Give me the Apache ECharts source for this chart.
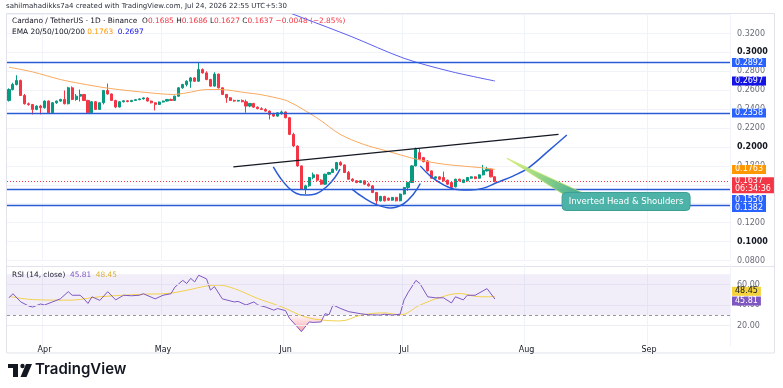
<!DOCTYPE html>
<html>
<head>
<meta charset="utf-8">
<title>Cardano / TetherUS 1D</title>
<script src="https://cdn.jsdelivr.net/npm/echarts@6.0.0/dist/echarts.min.js"></script>
<style>
  html, body { margin: 0; padding: 0; background: #ffffff; }
  #chart { width: 783px; height: 388px; }
</style>
</head>
<body>
<div id="chart"></div>
<script>
// ---- values ----
const startDay = '2026-03-23'      // first candle
const dayCount = 183               // candles + empty room on the right (to ~Sep 21)
const monthNames = ['Jan', 'Feb', 'Mar', 'Apr', 'May', 'Jun', 'Jul', 'Aug', 'Sep', 'Oct', 'Nov', 'Dec']

// daily candles: [open, close, low, high]
const candles = [
  [0.2492, 0.2607, 0.2480, 0.2620], [0.2607, 0.2660, 0.2598, 0.2678], [0.2660, 0.2702, 0.2650, 0.2758],
  [0.2702, 0.2544, 0.2538, 0.2712], [0.2544, 0.2457, 0.2448, 0.2560], [0.2457, 0.2448, 0.2436, 0.2470],
  [0.2448, 0.2397, 0.2344, 0.2455], [0.2397, 0.2432, 0.2388, 0.2440], [0.2432, 0.2415, 0.2344, 0.2445],
  [0.2415, 0.2485, 0.2405, 0.2492], [0.2485, 0.2362, 0.2350, 0.2492], [0.2362, 0.2467, 0.2358, 0.2475],
  [0.2467, 0.2485, 0.2455, 0.2490], [0.2485, 0.2502, 0.2478, 0.2510], [0.2502, 0.2457, 0.2450, 0.2597],
  [0.2457, 0.2625, 0.2450, 0.2636], [0.2625, 0.2502, 0.2495, 0.2640], [0.2502, 0.2537, 0.2488, 0.2560],
  [0.2537, 0.2555, 0.2480, 0.2607], [0.2555, 0.2492, 0.2485, 0.2560], [0.2492, 0.2362, 0.2355, 0.2498],
  [0.2362, 0.2478, 0.2356, 0.2485], [0.2478, 0.2397, 0.2390, 0.2485], [0.2397, 0.2467, 0.2392, 0.2472],
  [0.2467, 0.2597, 0.2450, 0.2603], [0.2597, 0.2560, 0.2553, 0.2670], [0.2560, 0.2492, 0.2486, 0.2566],
  [0.2492, 0.2422, 0.2410, 0.2498], [0.2422, 0.2478, 0.2418, 0.2485], [0.2478, 0.2488, 0.2470, 0.2495],
  [0.2488, 0.2480, 0.2472, 0.2494], [0.2480, 0.2492, 0.2474, 0.2498], [0.2492, 0.2500, 0.2486, 0.2506],
  [0.2500, 0.2508, 0.2494, 0.2515], [0.2508, 0.2518, 0.2500, 0.2525], [0.2518, 0.2485, 0.2480, 0.2525],
  [0.2485, 0.2467, 0.2460, 0.2490], [0.2467, 0.2450, 0.2386, 0.2472], [0.2450, 0.2475, 0.2444, 0.2480],
  [0.2475, 0.2485, 0.2470, 0.2490], [0.2485, 0.2502, 0.2480, 0.2508], [0.2502, 0.2492, 0.2486, 0.2510],
  [0.2492, 0.2537, 0.2488, 0.2542], [0.2537, 0.2625, 0.2530, 0.2632], [0.2625, 0.2660, 0.2615, 0.2668],
  [0.2660, 0.2695, 0.2640, 0.2705], [0.2695, 0.2730, 0.2625, 0.2740], [0.2730, 0.2695, 0.2688, 0.2738],
  [0.2695, 0.2818, 0.2690, 0.2888], [0.2818, 0.2783, 0.2775, 0.2830], [0.2783, 0.2713, 0.2705, 0.2800],
  [0.2713, 0.2643, 0.2636, 0.2720], [0.2643, 0.2770, 0.2638, 0.2790], [0.2770, 0.2625, 0.2618, 0.2775],
  [0.2625, 0.2555, 0.2548, 0.2630], [0.2555, 0.2520, 0.2467, 0.2560], [0.2520, 0.2492, 0.2486, 0.2526],
  [0.2492, 0.2485, 0.2478, 0.2500], [0.2485, 0.2492, 0.2480, 0.2498], [0.2492, 0.2478, 0.2472, 0.2502],
  [0.2478, 0.2432, 0.2362, 0.2500], [0.2432, 0.2460, 0.2420, 0.2466], [0.2460, 0.2421, 0.2415, 0.2466],
  [0.2421, 0.2405, 0.2398, 0.2428], [0.2405, 0.2396, 0.2390, 0.2420], [0.2396, 0.2379, 0.2372, 0.2410],
  [0.2379, 0.2344, 0.2291, 0.2385], [0.2344, 0.2326, 0.2318, 0.2361], [0.2326, 0.2361, 0.2320, 0.2366],
  [0.2361, 0.2370, 0.2340, 0.2385], [0.2370, 0.2309, 0.2302, 0.2375], [0.2309, 0.2133, 0.2125, 0.2315],
  [0.2133, 0.2010, 0.2000, 0.2150], [0.2010, 0.1800, 0.1790, 0.2015], [0.1800, 0.1554, 0.1545, 0.1805],
  [0.1554, 0.1589, 0.1502, 0.1600], [0.1589, 0.1677, 0.1579, 0.1684], [0.1677, 0.1705, 0.1659, 0.1730],
  [0.1705, 0.1649, 0.1642, 0.1712], [0.1649, 0.1607, 0.1600, 0.1659], [0.1607, 0.1712, 0.1600, 0.1718],
  [0.1712, 0.1730, 0.1705, 0.1737], [0.1730, 0.1765, 0.1725, 0.1772], [0.1765, 0.1835, 0.1747, 0.1842],
  [0.1835, 0.1810, 0.1800, 0.1850], [0.1810, 0.1730, 0.1724, 0.1815], [0.1730, 0.1659, 0.1652, 0.1747],
  [0.1659, 0.1642, 0.1636, 0.1670], [0.1642, 0.1624, 0.1617, 0.1649], [0.1624, 0.1642, 0.1618, 0.1648],
  [0.1642, 0.1607, 0.1600, 0.1648], [0.1607, 0.1589, 0.1582, 0.1624], [0.1589, 0.1519, 0.1512, 0.1595],
  [0.1519, 0.1431, 0.1390, 0.1525], [0.1431, 0.1477, 0.1424, 0.1484], [0.1477, 0.1431, 0.1424, 0.1484],
  [0.1459, 0.1438, 0.1430, 0.1465], [0.1438, 0.1467, 0.1432, 0.1472], [0.1467, 0.1431, 0.1424, 0.1472],
  [0.1431, 0.1502, 0.1426, 0.1508], [0.1502, 0.1572, 0.1495, 0.1578], [0.1572, 0.1624, 0.1537, 0.1630],
  [0.1624, 0.1800, 0.1618, 0.1808], [0.1800, 0.1975, 0.1795, 0.1993], [0.1940, 0.1870, 0.1862, 0.1980],
  [0.1888, 0.1845, 0.1838, 0.1895], [0.1852, 0.1747, 0.1740, 0.1860], [0.1747, 0.1670, 0.1664, 0.1752],
  [0.1670, 0.1684, 0.1664, 0.1690], [0.1684, 0.1659, 0.1652, 0.1690], [0.1677, 0.1642, 0.1636, 0.1740],
  [0.1649, 0.1607, 0.1600, 0.1655], [0.1624, 0.1572, 0.1565, 0.1630], [0.1579, 0.1659, 0.1572, 0.1665],
  [0.1659, 0.1642, 0.1636, 0.1665], [0.1624, 0.1652, 0.1618, 0.1658], [0.1642, 0.1677, 0.1636, 0.1683],
  [0.1670, 0.1684, 0.1665, 0.1690], [0.1684, 0.1666, 0.1660, 0.1690], [0.1670, 0.1705, 0.1664, 0.1710],
  [0.1705, 0.1754, 0.1700, 0.1810], [0.1747, 0.1765, 0.1740, 0.1790], [0.1765, 0.1684, 0.1678, 0.1772],
  [0.1685, 0.1637, 0.1627, 0.1686]
]

// moving averages, [day index, value]
const emaFast = [[0, 0.2843], [6, 0.2793], [13, 0.2713], [18, 0.2671], [25.6, 0.2618], [35.7, 0.2572],
  [41.5, 0.2555], [45, 0.2572], [50, 0.2607], [53.4, 0.2607], [60.2, 0.2572], [63.5, 0.2555], [67, 0.2525],
  [70.6, 0.2484], [77.9, 0.2309], [83.8, 0.2134], [89.7, 0.2028], [95.6, 0.1958], [103.2, 0.1870],
  [110, 0.1818], [119.2, 0.1782], [123, 0.1763]]
const emaSlow = [[50, 0.3740], [62, 0.3560], [74, 0.3370], [86.6, 0.3168], [100, 0.2937], [111.6, 0.2800], [123, 0.2697]]

// drawings
const levels = [0.2892, 0.2358, 0.1550, 0.1382]
const lastPrice = 0.1637
const countdown = '06:34:36'
const trendLine = [[56.8, 0.1789], [139.1, 0.2134]]
const leftShoulder = [[66.9, 0.1789], [68.6, 0.1677], [70.7, 0.1572], [72.8, 0.1508], [74.9, 0.1491],
  [77.9, 0.1508], [80.4, 0.1580], [82.5, 0.1677], [83.8, 0.1765]]
const headArc = [[86.8, 0.1554], [89.7, 0.1466], [93.1, 0.1389], [96.5, 0.1355], [99.8, 0.1397],
  [102.4, 0.1502], [104.1, 0.1614]]
const rightShoulder = [[104.1, 0.1800], [106.6, 0.1695], [110, 0.1600], [113.3, 0.1550], [116.7, 0.1544],
  [120.1, 0.1565], [123.5, 0.1624], [127.7, 0.1695], [131.5, 0.1780], [137, 0.1975], [141.2, 0.2126]]
const calloutTip = [126, 0.1881]
const calloutBox = [140, 0.1519]
const calloutText = 'Inverted Head & Shoulders'

// RSI(14) and its MA, [day index, value]
const rsi = [[0, 47], [1, 51], [3, 43], [5, 39], [6, 38], [8, 41], [9, 40], [11, 43], [13, 46], [15, 53],
  [16, 49.5], [18, 49.5], [19, 46], [20, 41.5], [21, 48], [23, 44.5], [25, 53], [27, 45], [29, 49.5],
  [31, 49], [33, 49.5], [34, 51], [37, 46], [39, 49.5], [41, 51], [42, 57.5], [44, 64], [45, 61], [46, 66],
  [47, 62.5], [48, 69], [50, 65.5], [51, 54.5], [52, 58], [54, 46], [57, 43], [58, 43.5], [60, 40], [62, 43],
  [63, 40], [65, 38], [67, 35], [68, 36.5], [70, 34.5], [71, 27], [73, 18.5], [74, 14], [76, 23.5], [77, 23],
  [79, 23.5], [80, 31.5], [81, 30.5], [82, 40], [84, 36.5], [86, 33.5], [89, 31.5], [91, 30.5], [94, 30.2],
  [95, 31], [97, 30.2], [99, 31], [100, 45], [101, 52], [103, 64], [104, 61], [106, 48], [108, 47], [110, 47],
  [112, 42], [113, 48], [115, 45], [116, 49.5], [118, 49.5], [121, 56], [123, 45.81]]
const rsiMa = [[0, 48.5], [6, 45.3], [15, 44.7], [23, 48], [34, 50.5], [40, 51.2], [45, 54.4], [50, 58.5],
  [53, 59.3], [57, 56], [63, 46.3], [69, 38.2], [75, 28.4], [80, 25.1], [84, 24.5], [89, 30], [95, 32.3],
  [99, 30.5], [104, 39.8], [109, 47.2], [114, 51.2], [118, 48.5], [121, 48], [123, 48.45]]
const rsiDip = [[70.6, 30], [71, 27], [73, 18.5], [74, 14], [76, 23.5], [77, 23], [79, 23.5], [79.8, 30]]

// ---- chart ----
const font = 'DejaVu Sans'
const upColor = '#089981'
const downColor = '#f23645'
const drawBlue = '#2a5bd7'

const dates = []
const t0 = Date.parse(startDay + 'T00:00:00Z')
for (let i = 0; i < dayCount; i++) dates.push(new Date(t0 + i * 86400000).toISOString().slice(0, 10))
const isMonthStart = (idx, val) => val.slice(8) === '01'

const chart = echarts.init(document.getElementById('chart'))

// price / value tag on the right scale
const tag = (bg, fg, digits, extra) => Object.assign({
  show: true, position: 'end', distance: 2, backgroundColor: bg, color: fg,
  fontFamily: font, fontSize: 8, lineHeight: 9, padding: [0, 3, 0, 3],
  formatter: (p) => (+p.value).toFixed(digits)
}, extra || {})

const hidden = { color: 'rgba(0,0,0,0)', width: 0 }
const lastRsi = rsi[rsi.length - 1][1]
const lastMa = rsiMa[rsiMa.length - 1][1]

const catAxis = (grid, labels) => ({
  type: 'category', gridIndex: grid, data: dates, boundaryGap: true,
  axisLine: { show: false }, axisTick: { show: false },
  axisLabel: {
    show: labels, interval: isMonthStart, margin: 0, color: '#131722', fontFamily: font, fontSize: 8,
    formatter: (v) => monthNames[+v.slice(5, 7) - 1]
  },
  splitLine: { show: true, interval: isMonthStart, lineStyle: { color: '#f0f3fa', width: 1 } }
})

const levelLine = (v, extra) => ({
  yAxis: v, lineStyle: { color: drawBlue, width: 1.3, type: 'solid' }, label: tag('#2962ff', '#fff', 4, extra)
})

chart.setOption({
  animation: false,
  textStyle: { fontFamily: font },
  grid: [
    { left: 7, right: 53, top: 14.5, bottom: 127.5 },
    { left: 7, right: 53, top: 264, bottom: 42 }
  ],
  xAxis: [
    catAxis(0, false),
    catAxis(1, true),
    { type: 'value', gridIndex: 0, min: -0.5, max: dayCount - 0.5, show: false },
    { type: 'value', gridIndex: 1, min: -0.5, max: dayCount - 0.5, show: false }
  ],
  yAxis: [
    {
      type: 'value', gridIndex: 0, position: 'right', min: 0.08, max: 0.34, interval: 0.02,
      axisLine: { show: false }, axisTick: { show: false },
      splitLine: { lineStyle: { color: '#f0f3fa' } },
      axisLabel: {
        margin: 7, showMaxLabel: false, fontFamily: font, fontSize: 8,
        formatter: (v) => Math.abs(v * 10 - Math.round(v * 10)) < 1e-6 ? '{b|' + v.toFixed(4) + '}' : '{n|' + v.toFixed(4) + '}',
        rich: {
          b: { fontFamily: font, fontSize: 8, fontWeight: 'bold', color: '#131722' },
          n: { fontFamily: font, fontSize: 8, color: '#6a6d78' }
        }
      }
    },
    {
      type: 'value', gridIndex: 1, position: 'right', min: 0, max: 80, interval: 20,
      axisLine: { show: false }, axisTick: { show: false }, splitLine: { show: false },
      axisLabel: {
        margin: 7, fontFamily: font, fontSize: 8, color: '#6a6d78',
        formatter: (v) => (v === 0 || v === 80) ? '' : v.toFixed(2)
      }
    }
  ],
  series: [
    {
      name: 'ADAUSDT', type: 'candlestick', xAxisIndex: 0, yAxisIndex: 0, barWidth: '66%',
      data: candles,
      itemStyle: { color: upColor, color0: downColor, borderColor: upColor, borderColor0: downColor, borderWidth: 1 },
      markLine: {
        silent: true, symbol: ['none', 'none'], precision: 4,
        data: [
          levelLine(levels[0]),
          levelLine(levels[1]),
          levelLine(levels[2], { offset: [0, 10] }),
          levelLine(levels[3], { offset: [0, 2] }),
          {
            yAxis: lastPrice, lineStyle: { color: downColor, width: 1, type: [1, 2] },
            label: tag(downColor, '#fff', 4, { offset: [0, 4], lineHeight: 8, formatter: lastPrice.toFixed(4) + '\n' + countdown })
          }
        ]
      }
    },
    {
      name: 'EMA fast', type: 'line', xAxisIndex: 2, yAxisIndex: 0, data: emaFast, smooth: 0.3,
      symbol: 'none', lineStyle: { color: '#f9a95e', width: 1 },
      markLine: {
        silent: true, symbol: ['none', 'none'], precision: 4,
        data: [{ yAxis: emaFast[emaFast.length - 1][1], lineStyle: hidden, label: tag('#ff9800', '#fff', 4) }]
      }
    },
    {
      name: 'EMA slow', type: 'line', xAxisIndex: 2, yAxisIndex: 0, data: emaSlow, smooth: 0.3,
      symbol: 'none', lineStyle: { color: '#5b5ef0', width: 1 },
      markLine: {
        silent: true, symbol: ['none', 'none'], precision: 4,
        data: [{ yAxis: emaSlow[emaSlow.length - 1][1], lineStyle: hidden, label: tag('#1414e6', '#fff', 4) }]
      }
    },
    {
      name: 'Neckline', type: 'line', xAxisIndex: 2, yAxisIndex: 0, data: trendLine,
      symbol: 'none', lineStyle: { color: '#131722', width: 1.3 }
    },
    {
      name: 'Left shoulder', type: 'line', xAxisIndex: 2, yAxisIndex: 0, data: leftShoulder, smooth: 0.4,
      symbol: 'none', lineStyle: { color: drawBlue, width: 1.5 }
    },
    {
      name: 'Head', type: 'line', xAxisIndex: 2, yAxisIndex: 0, data: headArc, smooth: 0.4,
      symbol: 'none', lineStyle: { color: drawBlue, width: 1.5 }
    },
    {
      name: 'Right shoulder', type: 'line', xAxisIndex: 2, yAxisIndex: 0, data: rightShoulder, smooth: 0.4,
      symbol: 'none', lineStyle: { color: drawBlue, width: 1.5 }
    },
    {
      name: 'RSI', type: 'line', xAxisIndex: 3, yAxisIndex: 1, data: rsi,
      symbol: 'none', lineStyle: { color: '#7e57c2', width: 1 }, z: 3,
      markArea: {
        silent: true,
        itemStyle: { color: 'rgba(126,87,194,0.10)' },
        data: [[{ yAxis: 30 }, { yAxis: 70 }]]
      },
      markLine: {
        silent: true, symbol: ['none', 'none'], precision: 2,
        data: [
          { yAxis: 20, lineStyle: { color: '#eceef3', width: 1, type: 'solid' }, label: { show: false } },
          { yAxis: 40, lineStyle: { color: '#e6e1f2', width: 1, type: 'solid' }, label: { show: false } },
          { yAxis: 60, lineStyle: { color: '#e6e1f2', width: 1, type: 'solid' }, label: { show: false } },
          { yAxis: 30, lineStyle: { color: '#9598a1', width: 1, type: [3, 3] }, label: { show: false } },
          { yAxis: lastRsi, lineStyle: hidden, label: tag('#7e57c2', '#fff', 2, { offset: [0, 2] }) }
        ]
      }
    },
    {
      name: 'RSI MA', type: 'line', xAxisIndex: 3, yAxisIndex: 1, data: rsiMa, smooth: 0.4,
      symbol: 'none', lineStyle: { color: '#f2d04a', width: 1 }, z: 2,
      markLine: {
        silent: true, symbol: ['none', 'none'], precision: 2,
        data: [{ yAxis: lastMa, lineStyle: hidden, label: tag('#f5d33f', '#131722', 2, { offset: [0, -5] }) }]
      }
    },
    {
      name: 'Oversold', type: 'line', xAxisIndex: 3, yAxisIndex: 1, data: rsiDip,
      symbol: 'none', lineStyle: { width: 0 }, z: 1,
      areaStyle: {
        origin: 30,
        color: new echarts.graphic.LinearGradient(0, 0, 0, 1, [
          { offset: 0, color: 'rgba(242,54,69,0.05)' },
          { offset: 1, color: 'rgba(242,54,69,0.65)' }
        ])
      }
    }
  ]
})

// ---- header, frame, logo and the callout ----
const tip = chart.convertToPixel({ seriesIndex: 3 }, calloutTip)
const box = chart.convertToPixel({ seriesIndex: 3 }, calloutBox)
const boxW = 128, boxH = 18

const rt = (c, size) => ({ fill: c, fontFamily: font, fontSize: size })
chart.setOption({
  graphic: [
    { type: 'rect', z: -1, silent: true, shape: { x: 6.5, y: 13.5, width: 768, height: 339.5 }, style: { fill: 'none', stroke: '#e0e3eb', lineWidth: 1 } },
    { type: 'line', z: -1, silent: true, shape: { x1: 6.5, y1: 266.5, x2: 774.5, y2: 266.5 }, style: { stroke: '#e0e3eb', lineWidth: 1 } },
    {
      type: 'text', left: 6, top: 3,
      style: { text: 'sahilmahadikks7a4 created with TradingView.com, Jul 24, 2026 22:55 UTC+5:30', fill: '#2a2e39', font: '7px "DejaVu Sans"' }
    },
    {
      type: 'text', left: 12, top: 18,
      style: {
        text: '{n|Cardano / TetherUS · 1D · Binance  O}{r|0.1685}{n| H}{r|0.1686}{n| L}{r|0.1627}{n| C}{r|0.1637}{r| −0.0048 (−2.85%)}',
        rich: { n: rt('#131722', 7.4), r: rt('#f23645', 7.4) }
      }
    },
    {
      type: 'text', left: 12, top: 29,
      style: {
        text: '{n|EMA 20/50/100/200 }{o|0.1763}{b|  0.2697}',
        rich: { n: rt('#131722', 7.4), o: rt('#ff9800', 7.4), b: rt('#1414e6', 7.4) }
      }
    },
    {
      type: 'text', left: 12, top: 272,
      style: {
        text: '{n|RSI (14, close)  }{p|45.81}{y|  48.45}',
        rich: { n: rt('#131722', 7.4), p: rt('#7e57c2', 7.4), y: rt('#e0b92a', 7.4) }
      }
    },
    {
      type: 'polygon', z: 20, silent: true,
      shape: { points: [tip, [box[0] + 3, box[1] + 3], [box[0] + 20, box[1]]] },
      style: {
        fill: new echarts.graphic.LinearGradient(0, 0, 1, 1, [
          { offset: 0, color: 'rgba(220,242,120,0.9)' },
          { offset: 0.6, color: 'rgba(120,200,130,0.95)' },
          { offset: 1, color: '#3fa79b' }
        ]),
        stroke: 'rgba(196,230,100,0.9)', lineWidth: 0.8
      }
    },
    {
      type: 'rect', z: 21, silent: true,
      shape: { x: box[0], y: box[1], width: boxW, height: boxH, r: 4 },
      style: { fill: '#4db3a8', stroke: '#3e9f95', lineWidth: 1 }
    },
    {
      type: 'text', z: 22, silent: true, x: box[0] + boxW / 2, y: box[1] + boxH / 2,
      style: { text: calloutText, fill: '#ffffff', font: '8.5px "DejaVu Sans"', align: 'center', verticalAlign: 'middle' }
    },
    { type: 'rect', silent: true, shape: { x: 8, y: 364, width: 10, height: 4 }, style: { fill: '#131722' } },
    { type: 'rect', silent: true, shape: { x: 13, y: 364, width: 5, height: 13 }, style: { fill: '#131722' } },
    { type: 'circle', silent: true, shape: { cx: 22.5, cy: 366, r: 2.2 }, style: { fill: '#131722' } },
    { type: 'polygon', silent: true, shape: { points: [[26, 364], [32, 364], [26.5, 377], [20.5, 377]] }, style: { fill: '#131722' } },
    {
      type: 'text', left: 35, top: 362,
      style: { text: 'TradingView', fill: '#131722', font: '600 15px Inter' }
    }
  ]
})

window.addEventListener('resize', () => chart.resize())
</script>
</body>
</html>
